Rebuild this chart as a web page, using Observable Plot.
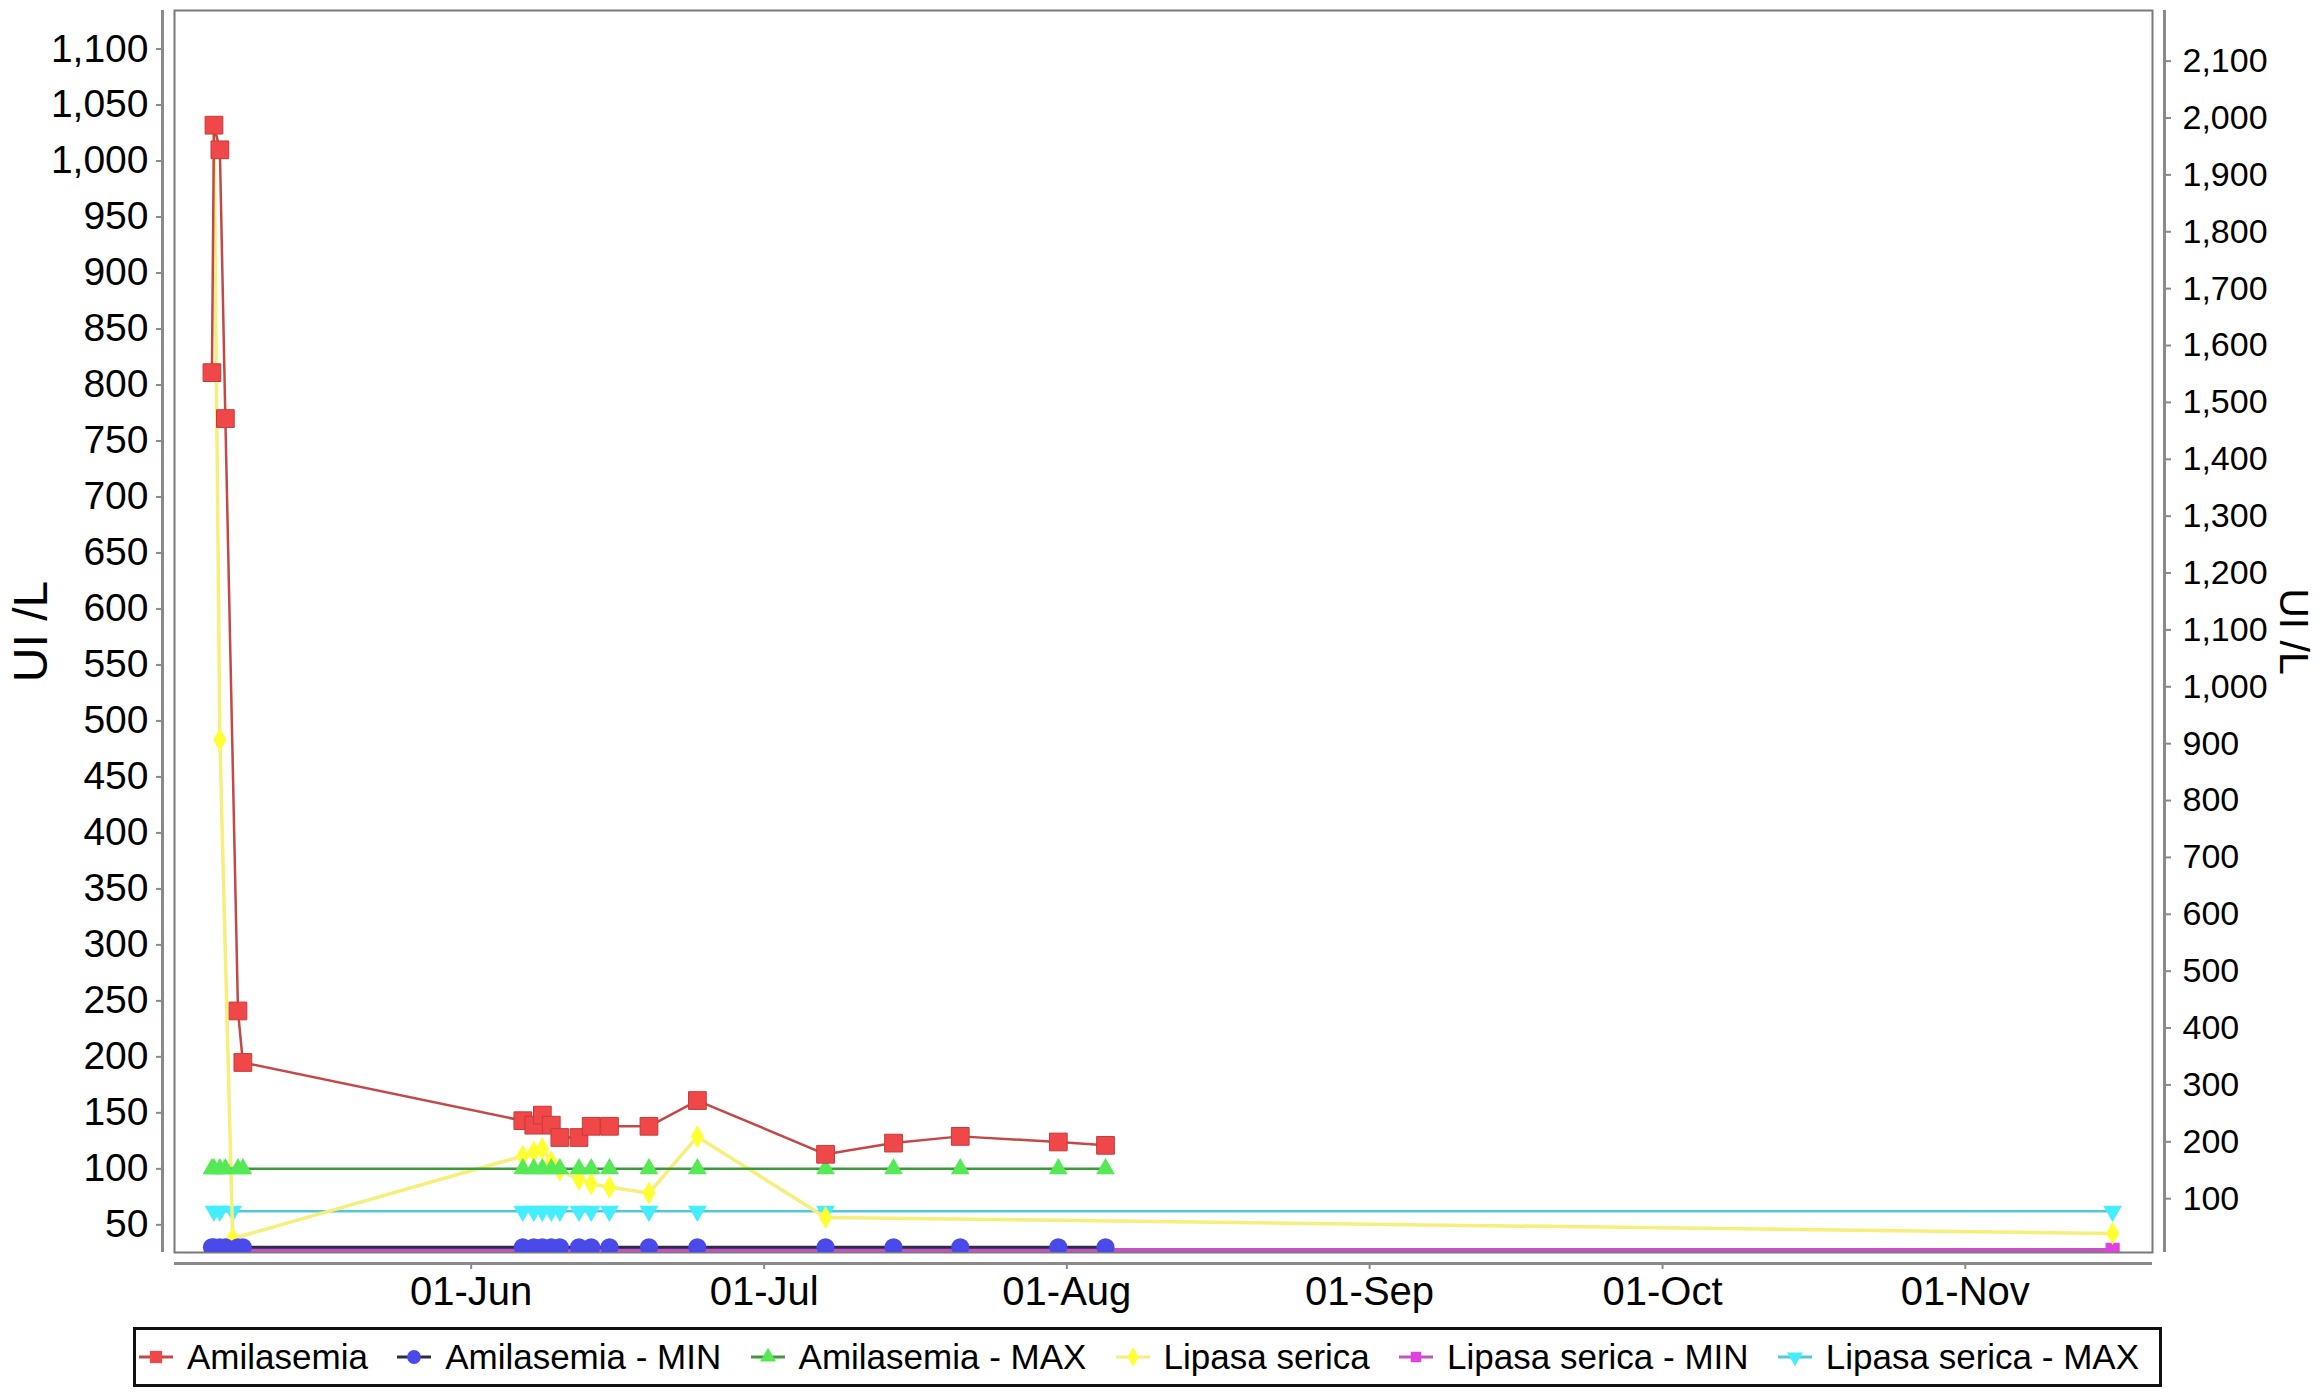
<!DOCTYPE html>
<html><head><meta charset="utf-8">
<script src="https://cdn.jsdelivr.net/npm/d3@7"></script>
<script src="https://cdn.jsdelivr.net/npm/@observablehq/plot@0.6"></script>
<style>
body{margin:0;background:#fff;font-family:"Liberation Sans",Arial,sans-serif;}
#chart{width:2319px;height:1394px;position:relative;overflow:hidden;}
#legend{position:absolute;left:133px;top:1327px;width:2029px;height:60px;box-sizing:border-box;border:3px solid #111;display:flex;align-items:center;justify-content:space-between;padding:0 20px 0 3px;font-size:35px;color:#000;}
.item{display:flex;align-items:center;white-space:nowrap;}
.item svg{margin-right:14px;}
</style></head><body><div id="chart"></div>
<script>
// ---- data ----
const amyDates = ["2017-05-05 11:00","2017-05-05 16:00","2017-05-06 06:30","2017-05-06 20:00","2017-05-08 03:00","2017-05-08 15:00",
  "2017-06-06 07:00","2017-06-07 10:00","2017-06-08 07:00","2017-06-09 05:00","2017-06-10 02:00","2017-06-12 01:00",
  "2017-06-13 07:00","2017-06-15 04:00","2017-06-19 05:00","2017-06-24 04:00","2017-07-07 07:00","2017-07-14 06:00",
  "2017-07-21 02:00","2017-07-31 03:00","2017-08-04 23:00"];
const amyValues = [811,1032,1010,770,241,195,143,139,148,139,128,128,138,138,138,161,113,123,129,124,121];
const lipDates = ["2017-05-05 16:00","2017-05-06 06:30","2017-05-07 14:00",
  "2017-06-06 07:00","2017-06-07 10:00","2017-06-08 07:00","2017-06-09 05:00","2017-06-10 02:00","2017-06-12 01:00",
  "2017-06-13 07:00","2017-06-15 04:00","2017-06-19 05:00","2017-06-24 04:00","2017-07-07 07:00","2017-11-16 02:00"];
const lipValues = [1983,907,30,175,182,188,165,150,134,126,120,110,209,67,39];
const amyMin = 30, amyMax = 100;
const lipMin = 10, lipMax = 78;
const leftTicks = [50,100,150,200,250,300,350,400,450,500,550,600,650,700,750,800,850,900,950,1000,1050,1100];
const rightTicks = [100,200,300,400,500,600,700,800,900,1000,1100,1200,1300,1400,1500,1600,1700,1800,1900,2000,2100];
const monthTicks = ["2017-06-01 00:00","2017-07-01 00:00","2017-08-01 00:00","2017-09-01 00:00","2017-10-01 00:00","2017-11-01 00:00"];
const xDomain = ["2017-05-01 15:00","2017-11-20 04:00"];
const yDomain = [25.3, 1134.4];
const y2Domain = [5.4, 2189];
const seriesNames = ["Amilasemia","Amilasemia - MIN","Amilasemia - MAX","Lipasa serica","Lipasa serica - MIN","Lipasa serica - MAX"];

// ---- helpers ----
const parse = d3.utcParse("%Y-%m-%d %H:%M");
const k = (yDomain[1]-yDomain[0])/(y2Domain[1]-y2Domain[0]);
const toLeft = r => yDomain[0] + (r - y2Domain[0]) * k;
const fromLeft = v => y2Domain[0] + (v - yDomain[0]) / k;
const fmt = d3.format(",");

const amy = amyDates.map((d,i)=>({date:parse(d), value:amyValues[i]}));
const amyMinRows = amyDates.map(d=>({date:parse(d), value:amyMin}));
const amyMaxRows = amyDates.map(d=>({date:parse(d), value:amyMax}));
const lip = lipDates.map((d,i)=>({date:parse(d), value:toLeft(lipValues[i])}));
const lipMinRows = lipDates.map(d=>({date:parse(d), value:toLeft(lipMin)}));
const lipMaxRows = lipDates.map(d=>({date:parse(d), value:toLeft(lipMax)}));

const triangleDown = {draw(ctx, size){
  const y = -Math.sqrt(size/(Math.sqrt(3)*3)), s3 = Math.sqrt(3);
  ctx.moveTo(0, -2*y); ctx.lineTo(-s3*y, y); ctx.lineTo(s3*y, y); ctx.closePath();
}};

const colors = {
  amyLine:"#c44848", amyDot:"#f04848",
  minLine:"#2c2c4a", minDot:"#4a4aea",
  maxLine:"#3c9a3c", maxDot:"#55ea55",
  lipLine:"#f6ef7c", lipDot:"#ffff33",
  lminLine:"#c054c0", lminDot:"#e040e0",
  lmaxLine:"#55c8d8", lmaxDot:"#44eeff"
};

const xd = xDomain.map(parse);
const plot = Plot.plot({
  width: 2319, height: 1315,
  marginLeft: 174, marginRight: 167, marginTop: 10, marginBottom: 63,
  x: {type:"utc", domain: xd},
  y: {domain: yDomain},
  style: {fontFamily:"Liberation Sans, Arial, sans-serif", color:"#000", background:"#fff"},
  marks: [
    Plot.frame({stroke:"#7a7a7a", strokeWidth:2}),
    Plot.ruleX([xd[0]], {dx:-12, stroke:"#8a8a8a", strokeWidth:3}),
    Plot.ruleX([xd[1]], {dx:12, stroke:"#8a8a8a", strokeWidth:3}),
    Plot.ruleY([yDomain[0]], {dy:11, stroke:"#8a8a8a", strokeWidth:3}),
    Plot.axisY(leftTicks, {anchor:"left", dx:-12, tickSize:6, tickPadding:8, tickFormat: fmt, fontSize:39, stroke:"#8a8a8a", strokeWidth:2, fill:"#000", label:null}),
    Plot.axisY(rightTicks.map(toLeft), {anchor:"right", dx:12, tickSize:6, tickPadding:12, tickFormat: v => fmt(Math.round(fromLeft(v))), fontSize:34, stroke:"#8a8a8a", strokeWidth:2, fill:"#000", label:null}),
    Plot.axisX(monthTicks.map(parse), {anchor:"bottom", dy:11, tickSize:6, tickPadding:7, tickFormat: d3.utcFormat("%d-%b"), fontSize:40, stroke:"#8a8a8a", strokeWidth:2, fill:"#000", label:null}),
    Plot.text(["UI /L"], {frameAnchor:"left", dx:-143, rotate:-90, textAnchor:"middle", lineAnchor:"middle", fontSize:48, fill:"#000"}),
    Plot.text(["UI /L"], {frameAnchor:"right", dx:141, rotate:90, textAnchor:"middle", lineAnchor:"middle", fontSize:41, fill:"#000"}),
    // lipase series (right axis)
    Plot.line(lipMaxRows, {x:"date", y:"value", stroke:colors.lmaxLine, strokeWidth:2.5, clip:true}),
    Plot.dot(lipMaxRows, {x:"date", y:"value", symbol:triangleDown, r:7, fill:colors.lmaxDot, clip:true}),
    Plot.line(lipMinRows, {x:"date", y:"value", stroke:colors.lminLine, strokeWidth:4, clip:true}),
    Plot.dot(lipMinRows, {x:"date", y:"value", symbol:"square", r:8, fill:colors.lminDot, clip:true}),
    Plot.line(lip, {x:"date", y:"value", stroke:colors.lipLine, strokeWidth:3.5, clip:true}),
    Plot.dot(lip, {x:"date", y:"value", symbol:"diamond", r:7, fill:colors.lipDot, clip:true}),
    // amylase series (left axis)
    Plot.line(amyMaxRows, {x:"date", y:"value", stroke:colors.maxLine, strokeWidth:2.5, clip:true}),
    Plot.dot(amyMaxRows, {x:"date", y:"value", symbol:"triangle", r:7, fill:colors.maxDot, clip:true}),
    Plot.line(amyMinRows, {x:"date", y:"value", stroke:colors.minLine, strokeWidth:3, clip:true}),
    Plot.dot(amyMinRows, {x:"date", y:"value", symbol:"circle", r:9, fill:colors.minDot, clip:true}),
    Plot.line(amy, {x:"date", y:"value", stroke:colors.amyLine, strokeWidth:2.5, clip:true}),
    Plot.dot(amy, {x:"date", y:"value", symbol:"square", r:10, fill:colors.amyDot, stroke:"#c83a3a", strokeWidth:1, clip:true})
  ]
});
const chart = document.getElementById("chart");
chart.appendChild(plot);

// ---- legend ----
const legendDefs = [
  {line:colors.amyLine, dot:colors.amyDot, sym:d3.symbolSquare, size:150},
  {line:colors.minLine, dot:colors.minDot, sym:d3.symbolCircle, size:150},
  {line:colors.maxLine, dot:colors.maxDot, sym:d3.symbolTriangle, size:110},
  {line:colors.lipLine, dot:colors.lipDot, sym:d3.symbolDiamond, size:110},
  {line:colors.lminLine, dot:colors.lminDot, sym:d3.symbolSquare, size:110},
  {line:colors.lmaxLine, dot:colors.lmaxDot, sym:triangleDown, size:110}
];
const legend = document.createElement("div");
legend.id = "legend";
seriesNames.forEach((name,i)=>{
  const def = legendDefs[i];
  const item = document.createElement("div");
  item.className = "item";
  const path = d3.symbol(def.sym, def.size)();
  item.innerHTML = `<svg width="34" height="30" viewBox="-17 -15 34 30"><line x1="-17" x2="17" y1="0" y2="0" stroke="${def.line}" stroke-width="3"/><path d="${path}" fill="${def.dot}"/></svg><span>${name}</span>`;
  legend.appendChild(item);
});
chart.appendChild(legend);
</script>
</body></html>
